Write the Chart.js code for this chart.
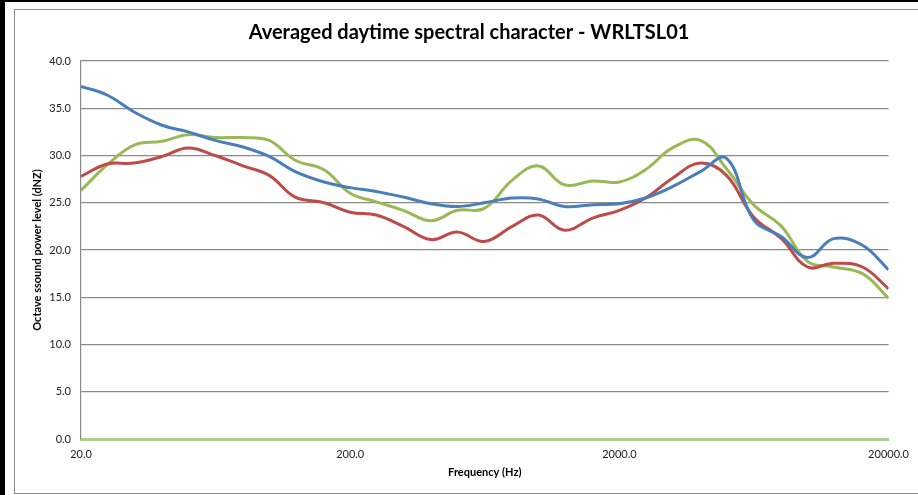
<!DOCTYPE html>
<html>
<head>
<meta charset="utf-8">
<script src="https://cdn.jsdelivr.net/npm/chart.js@4.4.1/dist/chart.umd.min.js"></script>
<style>
  html, body { margin: 0; padding: 0; background: #000; }
  #page { position: absolute; left: 5px; top: 2px; width: 913px; height: 493px; background: #fff; }
  #frame { position: absolute; left: 14px; top: 9px; width: 920px; height: 483px; border: 1px solid #8c8c8c; }
  #wrap { position: absolute; left: 0; top: 0; width: 918px; height: 495px; }
</style>
</head>
<body>
<div id="page"></div>
<div id="frame"></div>
<div id="wrap"><canvas id="chart" width="918" height="495"></canvas></div>
<script>
// 1/3 octave band centres (Hz)
const frequencies = [20, 25, 31.5, 40, 50, 63, 80, 100, 125, 160, 200, 250, 315, 400, 500, 630, 800,
  1000, 1250, 1600, 2000, 2500, 3150, 4000, 5000, 6300, 8000, 10000, 12500, 16000, 20000];

const blueLevels = [37.3, 36.4, 34.6, 33.2, 32.5, 31.6, 30.9, 29.9, 28.3, 27.2, 26.6, 26.2, 25.6, 24.9, 24.6, 25.0, 25.5,
  25.4, 24.6, 24.8, 24.9, 25.5, 26.7, 28.3, 29.7, 23.2, 21.4, 19.2, 21.2, 20.5, 17.9];
const redLevels = [27.8, 29.1, 29.2, 29.9, 30.8, 30.0, 28.9, 27.9, 25.6, 25.0, 24.0, 23.7, 22.5, 21.1, 21.9, 20.9, 22.5,
  23.7, 22.1, 23.4, 24.2, 25.5, 27.6, 29.2, 27.9, 23.5, 21.2, 18.2, 18.6, 18.2, 15.9];
const greenLevels = [26.3, 29.0, 31.1, 31.5, 32.2, 31.9, 31.9, 31.6, 29.5, 28.5, 26.0, 25.1, 24.2, 23.1, 24.2, 24.4, 27.4,
  28.9, 26.9, 27.3, 27.2, 28.5, 30.8, 31.6, 28.6, 24.8, 22.5, 18.8, 18.2, 17.5, 14.9];

const xTicks = [20, 200, 2000, 20000];

const seriesColors = ['#4a7ebb', '#be4b48', '#98b954'];
const toPoints = arr => arr.map((v, i) => ({ x: frequencies[i], y: v }));

const lbl = { family: 'Lato, "Open Sans", sans-serif', size: 11 };

new Chart(document.getElementById('chart'), {
  type: 'line',
  data: {
    datasets: [
      { label: 'Series1', data: toPoints(blueLevels), borderColor: seriesColors[0] },
      { label: 'Series2', data: toPoints(redLevels), borderColor: seriesColors[1] },
      { label: 'Series3', data: toPoints(greenLevels), borderColor: seriesColors[2] }
    ].map(d => Object.assign(d, { borderWidth: 3, pointRadius: 0, tension: 0.4, fill: false }))
  },
  options: {
    responsive: false,
    animation: false,
    // left padding shifts the title centre right, like the reference
    layout: { padding: { left: 48, right: 28, top: 0, bottom: 0 } },
    plugins: {
      legend: { display: false },
      tooltip: { enabled: false },
      title: {
        display: true,
        text: 'Averaged daytime spectral character - WRLTSL01',
        color: '#000',
        font: { family: 'Lato, "Open Sans", sans-serif', size: 20, weight: 'bold' },
        padding: { top: 21, bottom: 16 }
      }
    },
    scales: {
      x: {
        type: 'logarithmic',
        min: 20,
        max: 20000,
        afterBuildTicks: s => { s.ticks = xTicks.map(v => ({ value: v })); },
        afterFit: s => { s.height = 56; },
        grid: { display: false, drawTicks: false },
        border: { display: true, color: '#b3ca92', width: 3 },
        ticks: {
          autoSkip: false, maxRotation: 0, padding: 9, color: '#222', font: lbl,
          callback: v => Number(v).toFixed(1)
        },
        title: {
          display: true, text: 'Frequency (Hz)', color: '#000',
          font: { family: lbl.family, size: 11, weight: 'bold' },
          padding: { top: 0, bottom: 16 }
        }
      },
      y: {
        min: 0,
        max: 40,
        afterFit: s => { s.width = 33; },
        grid: { color: '#8a8a8a', lineWidth: 1.2, drawTicks: false },
        border: { display: true, color: '#8a8a8a', width: 1.2 },
        ticks: {
          stepSize: 5, padding: 10, color: '#222', font: lbl,
          callback: v => Number(v).toFixed(1)
        },
        title: {
          display: true, text: 'Octave ssound power level (dNZ)', color: '#000',
          font: { family: lbl.family, size: 11, weight: 'bold' },
          padding: { top: -17, bottom: 0 }
        }
      }
    }
  }
});
</script>
</body>
</html>
